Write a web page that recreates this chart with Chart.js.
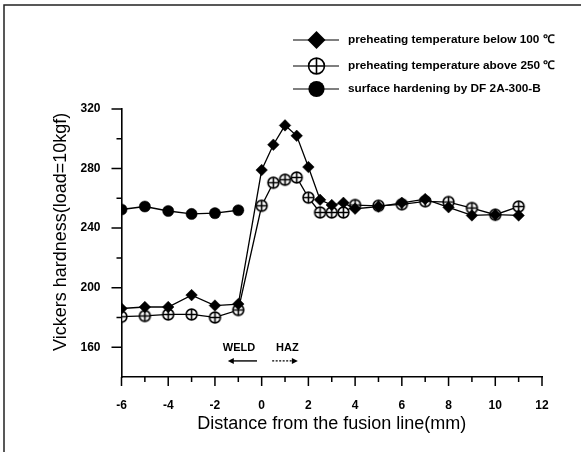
<!DOCTYPE html>
<html>
<head>
<meta charset="utf-8">
<script src="https://cdn.jsdelivr.net/npm/chart.js@4/dist/chart.umd.min.js"></script>
<style>
  html, body { margin: 0; padding: 0; background: #fff; }
  #wrap { position: relative; width: 581px; height: 453px; }
  canvas { display: block; }
</style>
</head>
<body>
<div id="wrap"><canvas id="c" width="581" height="453"></canvas></div>
<script>
// ---- data ----
const xBelow100 = [-6, -5, -4, -3, -2, -1, 0, 0.5, 1, 1.5, 2, 2.5, 3, 3.5, 4, 5, 6, 7, 8, 9, 10, 11];
const yBelow100 = [186, 187, 187, 195, 188, 189, 279, 296, 309, 302, 281, 259, 255.5, 257, 253, 254.5, 257, 259.5, 254, 248.5, 249, 248.5];

const xAbove250 = [-6, -5, -4, -3, -2, -1, 0, 0.5, 1, 1.5, 2, 2.5, 3, 3.5, 4, 5, 6, 7, 8, 9, 10, 11];
const yAbove250 = [180.5, 181, 182, 182, 180, 185, 255, 270.5, 272.5, 274, 260.5, 250.5, 250.5, 250.5, 255.5, 255, 256, 258, 257.5, 253.5, 249, 254.5];

const xSurface = [-6, -5, -4, -3, -2, -1];
const ySurface = [252.5, 254.5, 251.5, 249.5, 250, 252];

const seriesNames = [
  'preheating temperature below 100 \u2103',
  'preheating temperature above 250 \u2103',
  'surface hardening by DF 2A-300-B'
];
const xTitle = 'Distance from the fusion line(mm)';
const yTitle = 'Vickers hardness(load=10kgf)';
const xMin = -6, xMax = 12, yMin = 140, yMax = 320;
const xTickLabels = [-6, -4, -2, 0, 2, 4, 6, 8, 10, 12];
const yTickLabels = [160, 200, 240, 280, 320];
const zoneLabels = ['WELD', 'HAZ'];

// ---- helpers ----
function zip(xs, ys) { return xs.map((x, i) => ({ x: x, y: ys[i] })); }

function circlePlus(r, lw) {
  const s = 2 * Math.ceil(r + lw) + 1;
  const cv = document.createElement('canvas');
  cv.width = s; cv.height = s;
  const c = cv.getContext('2d');
  const m = s / 2;
  c.fillStyle = '#fff';
  c.strokeStyle = '#000';
  c.lineWidth = lw;
  c.beginPath(); c.arc(m, m, r, 0, Math.PI * 2); c.fill(); c.stroke();
  c.beginPath();
  c.moveTo(m - r, m); c.lineTo(m + r, m);
  c.moveTo(m, m - r); c.lineTo(m, m + r);
  c.stroke();
  return cv;
}
const cpPlot = circlePlus(5.4, 1.6);

function drawMarker(ctx, kind, x, y, r) {
  ctx.save();
  ctx.fillStyle = '#000'; ctx.strokeStyle = '#000'; ctx.lineWidth = 1.6;
  if (kind === 0) {
    ctx.beginPath();
    ctx.moveTo(x - r, y); ctx.lineTo(x, y - r); ctx.lineTo(x + r, y); ctx.lineTo(x, y + r);
    ctx.closePath(); ctx.fill();
  } else if (kind === 1) {
    const rr = r * 0.88;
    ctx.fillStyle = '#fff';
    ctx.beginPath(); ctx.arc(x, y, rr, 0, Math.PI * 2); ctx.fill(); ctx.stroke();
    ctx.beginPath();
    ctx.moveTo(x - rr, y); ctx.lineTo(x + rr, y);
    ctx.moveTo(x, y - rr); ctx.lineTo(x, y + rr);
    ctx.stroke();
  } else {
    ctx.beginPath(); ctx.arc(x, y, r * 0.9, 0, Math.PI * 2); ctx.fill();
  }
  ctx.restore();
}

const FONT = '"Liberation Sans", Arial, sans-serif';

// ---- plugin: frame, minor/major ticks, y title, legend, WELD/HAZ ----
const decor = {
  id: 'decor',
  afterDraw(chart) {
    const ctx = chart.ctx;
    const xs = chart.scales.x, ys = chart.scales.y;
    ctx.save();
    // page frame (left + top)
    ctx.strokeStyle = '#222'; ctx.lineWidth = 1.5;
    ctx.beginPath();
    ctx.moveTo(4, 452); ctx.lineTo(4, 5); ctx.lineTo(581, 5);
    ctx.stroke();

    // ticks
    ctx.strokeStyle = '#000'; ctx.lineWidth = 1.5;
    const bottom = chart.chartArea.bottom, left = chart.chartArea.left;
    ctx.beginPath();
    for (let v = xMin; v <= xMax; v += 1) {
      const px = xs.getPixelForValue(v);
      const len = (v % 2 === 0) ? 9 : 5;
      ctx.moveTo(px, bottom); ctx.lineTo(px, bottom + len);
    }
    for (let v = yMin + 20; v <= yMax; v += 20) {
      const py = ys.getPixelForValue(v);
      const len = ((v - 160) % 40 === 0) ? 10 : 5;
      ctx.moveTo(left, py); ctx.lineTo(left - len, py);
    }
    ctx.stroke();

    // y axis title
    ctx.save();
    ctx.translate(61, 351);
    ctx.rotate(-Math.PI / 2);
    ctx.font = '18px ' + FONT;
    ctx.fillStyle = '#000';
    ctx.textAlign = 'left';
    ctx.textBaseline = 'middle';
    ctx.fillText(yTitle, 0, 0);
    ctx.restore();

    // legend
    const rowsY = [40, 66, 89];
    ctx.font = 'bold 11.8px ' + FONT;
    ctx.textBaseline = 'middle';
    ctx.fillStyle = '#000';
    rowsY.forEach((ry, i) => {
      ctx.lineWidth = 1.2;
      ctx.beginPath(); ctx.moveTo(293, ry); ctx.lineTo(339, ry); ctx.stroke();
      drawMarker(ctx, i, 316.5, ry, 9);
      ctx.fillText(seriesNames[i], 348, ry);
    });

    // WELD / HAZ annotations with arrows
    ctx.font = 'bold 11px ' + FONT;
    ctx.textAlign = 'center';
    const wx = xs.getPixelForValue(-0.97), hx = xs.getPixelForValue(1.1);
    const ty = ys.getPixelForValue(159.3), ay = ys.getPixelForValue(150.8);
    ctx.fillText(zoneLabels[0], wx, ty);
    ctx.fillText(zoneLabels[1], hx, ty);
    ctx.lineWidth = 1.4;
    // left arrow (solid)
    const l1 = xs.getPixelForValue(-0.2), l2 = xs.getPixelForValue(-1.45);
    ctx.beginPath(); ctx.moveTo(l1, ay); ctx.lineTo(l2 + 4, ay); ctx.stroke();
    ctx.beginPath(); ctx.moveTo(l2, ay); ctx.lineTo(l2 + 6, ay - 3); ctx.lineTo(l2 + 6, ay + 3); ctx.closePath(); ctx.fill();
    // right arrow (dashed)
    const r1 = xs.getPixelForValue(0.45), r2 = xs.getPixelForValue(1.55);
    ctx.setLineDash([2, 1.5]);
    ctx.beginPath(); ctx.moveTo(r1, ay); ctx.lineTo(r2 - 4, ay); ctx.stroke();
    ctx.setLineDash([]);
    ctx.beginPath(); ctx.moveTo(r2, ay); ctx.lineTo(r2 - 6, ay - 3); ctx.lineTo(r2 - 6, ay + 3); ctx.closePath(); ctx.fill();
    ctx.restore();
  }
};

new Chart(document.getElementById('c'), {
  type: 'scatter',
  data: {
    datasets: [
      {
        label: seriesNames[0],
        data: zip(xBelow100, yBelow100),
        showLine: true,
        borderColor: '#000', borderWidth: 1.3,
        pointStyle: 'rectRot', pointRadius: 5.8,
        pointBackgroundColor: '#000', pointBorderColor: '#000', pointBorderWidth: 0.5,
        order: 1
      },
      {
        label: seriesNames[1],
        data: zip(xAbove250, yAbove250),
        showLine: true,
        borderColor: '#000', borderWidth: 1.3,
        pointStyle: cpPlot, pointRadius: 5.5,
        order: 2
      },
      {
        label: seriesNames[2],
        data: zip(xSurface, ySurface),
        showLine: true,
        borderColor: '#000', borderWidth: 1.3,
        pointStyle: 'circle', pointRadius: 5.6,
        pointBackgroundColor: '#000', pointBorderColor: '#000', pointBorderWidth: 0.5,
        order: 0
      }
    ]
  },
  options: {
    responsive: false,
    animation: false,
    events: [],
    layout: { padding: { left: 0, top: 109, right: 39, bottom: 0 } },
    plugins: { legend: { display: false }, tooltip: { enabled: false }, title: { display: false } },
    scales: {
      x: {
        type: 'linear', min: xMin, max: xMax,
        afterFit(s) { s.height = 76; },
        afterBuildTicks(s) { s.ticks = xTickLabels.map(v => ({ value: v })); },
        grid: { display: false, drawTicks: false },
        border: { display: true, color: '#000', width: 1.6 },
        ticks: { color: '#000', padding: 21, maxRotation: 0, autoSkip: false,
                 font: { family: FONT, size: 12, weight: 'bold' } },
        title: { display: true, text: xTitle, color: '#000',
                 font: { family: FONT, size: 18 }, padding: { top: 0, bottom: 18 } }
      },
      y: {
        type: 'linear', min: yMin, max: yMax,
        afterFit(s) { s.width = 121.5; },
        afterBuildTicks(s) { s.ticks = yTickLabels.map(v => ({ value: v })); },
        grid: { display: false, drawTicks: false },
        border: { display: true, color: '#000', width: 1.6 },
        ticks: { color: '#000', padding: 21, autoSkip: false,
                 font: { family: FONT, size: 12, weight: 'bold' } },
        title: { display: false, text: yTitle }
      }
    }
  },
  plugins: [decor]
});
</script>
</body>
</html>
